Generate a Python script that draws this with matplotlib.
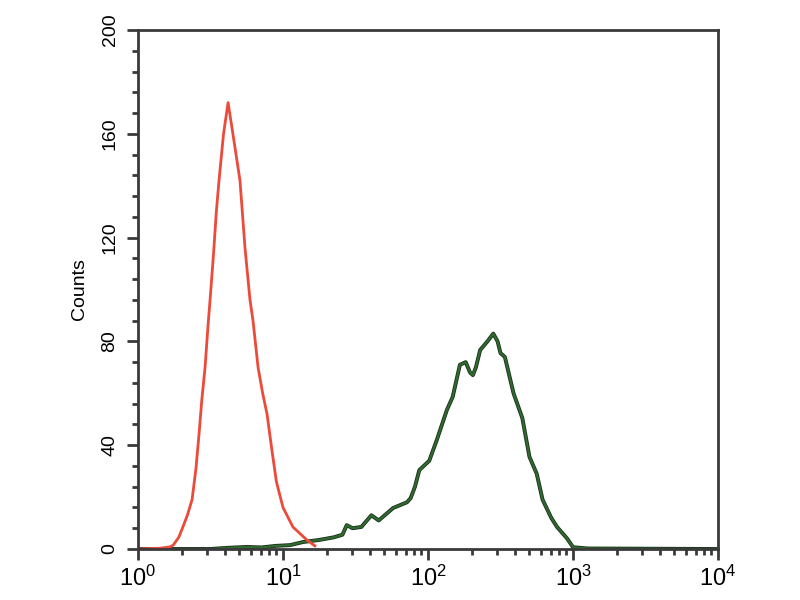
"""Flow cytometry histogram: isotype control (red) vs. stained sample (green)."""

import matplotlib

matplotlib.use("Agg")
import matplotlib.pyplot as plt
import matplotlib.patheffects as pe
from matplotlib.ticker import LogLocator, MultipleLocator

# control histogram (fluorescence intensity, counts)
red_x = [1.0, 1.41, 1.66, 1.75, 1.91, 2.04, 2.19, 2.36, 2.51, 2.64, 2.75, 2.90,
         3.04, 3.18, 3.32, 3.47, 3.62, 3.89, 4.18, 4.57, 5.05, 5.47, 5.92, 6.21,
         6.73, 7.24, 7.76, 8.39, 9.0, 10.0, 11.7, 14.6, 16.6]
red_y = [0, 0.3, 0.8, 1.5, 4.5, 8.5, 13, 19, 31, 44.7, 57, 70,
         86, 100, 114, 130, 142, 160, 172, 158, 142, 116, 96, 88,
         70, 60, 52, 38, 26, 16, 8.5, 3.5, 1.2]

# stained sample histogram
green_x = [1.0, 3.16, 3.98, 5.62, 7.08, 8.91, 11.2, 13.8, 17.8, 22.4, 25.7, 27.5,
           30.2, 34.7, 40.7, 45.7, 57.5, 71.6, 75.9, 81.3, 87.1, 102, 115, 135,
           148, 166, 182, 195, 204, 214, 229, 257, 282, 302, 316, 339, 389, 447,
           501, 562, 617, 708, 776, 912, 1000, 1259, 10000]
green_y = [0, 0, 0.4, 0.8, 0.6, 1.2, 1.5, 2.7, 3.5, 4.5, 5.5, 9.2,
           8, 8.5, 13, 11, 15.8, 18, 19.6, 24, 30.4, 34, 42, 53.6,
           58.6, 71, 72, 68, 67, 70, 76.7, 80, 83, 80, 75.5, 74, 60, 50.5,
           35.5, 29, 19, 12, 8.5, 4, 0.7, 0.2, 0]

y_ticks = [0, 40, 80, 120, 160, 200]

plt.rcParams["font.family"] = ["Liberation Sans", "DejaVu Sans"]
plt.rcParams["mathtext.fontset"] = "custom"
plt.rcParams["mathtext.rm"] = "Liberation Sans"

fig = plt.figure(figsize=(8, 6), dpi=100)
ax = fig.add_axes([0.1725, 0.085, 0.725, 0.865])

ax.plot(green_x, green_y, color="#2f6a2f", linewidth=1.6,
        path_effects=[pe.Stroke(linewidth=2.8, foreground="#1c2e1c"), pe.Normal()])
ax.plot(red_x, red_y, color="#ec4a3a", linewidth=2.0)

ax.set_xscale("log")
ax.set_xlim(1, 1e4)
ax.set_ylim(0, 200)
ax.set_yticks(y_ticks)
ax.yaxis.set_minor_locator(MultipleLocator(8))
ax.xaxis.set_major_locator(LogLocator(base=10, numticks=10))
ax.xaxis.set_minor_locator(LogLocator(base=10, subs=range(2, 10), numticks=10))

for side in ax.spines.values():
    side.set_color("#3a3a3a")
    side.set_linewidth(2)

ax.tick_params(which="major", direction="out", length=8, width=2, color="#3a3a3a")
ax.tick_params(which="minor", direction="out", length=4, width=2, color="#3a3a3a")
ax.tick_params(axis="x", labelsize=17, pad=4)
ax.tick_params(axis="y", labelsize=14, pad=6)
for lbl in ax.get_yticklabels():
    lbl.set_rotation(90)
    lbl.set_va("center")

ax.set_ylabel("Counts", fontsize=14, labelpad=10)

fig.savefig("out.png", dpi=100)
plt.close(fig)
